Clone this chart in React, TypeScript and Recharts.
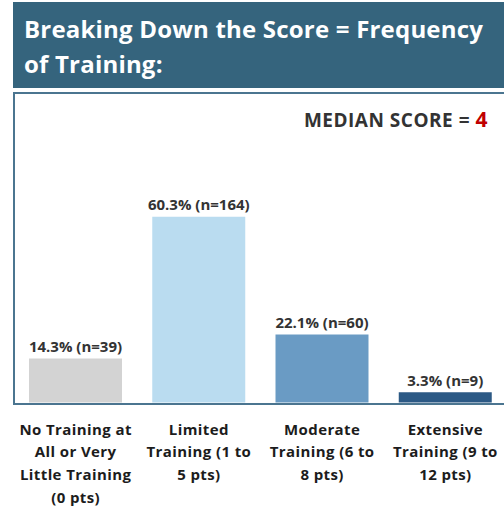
import React from "react";
import { Bar, BarChart, Cell, LabelList, XAxis, YAxis } from "recharts";

// categories (x axis labels, pre-broken into lines as in the original)
const categories = [
  "No Training at|All or Very|Little Training|(0 pts)",
  "Limited|Training (1 to|5 pts)",
  "Moderate|Training (6 to|8 pts)",
  "Extensive|Training (9 to|12 pts)",
];
const percents = [14.3, 60.3, 22.1, 3.3];
const counts = [39, 164, 60, 9];
const barColors = ["#d3d3d3", "#badcf0", "#6a9bc4", "#2c5985"];

const titleLines = ["Breaking Down the Score = Frequency", "of Training:"];
const medianScore = 4;

const data = categories.map((name, i) => ({
  name,
  pct: percents[i],
  n: counts[i],
}));

const FONT = "'Open Sans', 'Noto Sans', sans-serif";
const TEAL = "#35647d";

const CategoryTick = ({ x, y, payload }: any) => {
  const lines = String(payload.value).split("|");
  return (
    <g transform={`translate(${x},${y})`}>
      <text
        textAnchor="middle"
        fill="#1c1c1c"
        fontFamily={FONT}
        fontWeight={700}
        fontSize={15}
        letterSpacing={0.4}
      >
        {lines.map((line, i) => (
          <tspan key={i} x={0} y={24 + i * 22.8}>
            {line}
          </tspan>
        ))}
      </text>
    </g>
  );
};

const BarValueLabel = (props: any) => {
  const { x, y, width, index } = props;
  return (
    <text
      x={x + width / 2}
      y={y - 6.5}
      textAnchor="middle"
      fill="#333333"
      fontFamily={FONT}
      fontWeight={700}
      fontSize={15}
    >
      {`${percents[index].toFixed(1)}% (n=${counts[index]})`}
    </text>
  );
};

export default function App() {
  return (
    <div
      style={{
        position: "absolute",
        left: 0,
        top: 0,
        width: 504,
        height: 506,
        overflow: "hidden",
        background: "#ffffff",
        fontFamily: FONT,
      }}
    >
      {/* header band */}
      <div style={{ position: "absolute", left: 13, top: 2, width: 500, height: 86, background: TEAL }} />
      {/* panel frame */}
      <div
        style={{
          position: "absolute",
          left: 13,
          top: 92,
          width: 510,
          height: 309,
          border: "2px solid #4b7590",
          boxSizing: "content-box",
        }}
      />
      <svg width={504} height={140} style={{ position: "absolute", left: 0, top: 0 }}>
        {titleLines.map((line, i) => (
          <text
            key={i}
            x={24}
            y={38 + i * 35}
            fill="#ffffff"
            fontFamily={FONT}
            fontWeight={700}
            fontSize={24}
            letterSpacing={0.2}
          >
            {line}
          </text>
        ))}
        <text
          x={488}
          y={127}
          textAnchor="end"
          fontFamily={FONT}
          fontWeight={700}
          fontSize={19}
          letterSpacing={0.5}
          fill="#333333"
        >
          MEDIAN SCORE ={" "}
          <tspan fill="#c00000" fontSize={21}>
            {medianScore}
          </tspan>
        </text>
      </svg>
      <div style={{ position: "absolute", left: 0, top: 0 }}>
        <BarChart width={510} height={506} data={data} margin={{ top: 187, right: 3, bottom: 0, left: 14 }}>
          <YAxis hide domain={[0, 70]} type="number" />
          <XAxis
            dataKey="name"
            axisLine={false}
            tickLine={false}
            height={103.5}
            interval={0}
            tick={<CategoryTick />}
          />
          <Bar dataKey="pct" barSize={93} isAnimationActive={false}>
            {data.map((d, i) => (
              <Cell key={d.name} fill={barColors[i]} />
            ))}
            <LabelList dataKey="pct" content={<BarValueLabel />} />
          </Bar>
        </BarChart>
      </div>
    </div>
  );
}
